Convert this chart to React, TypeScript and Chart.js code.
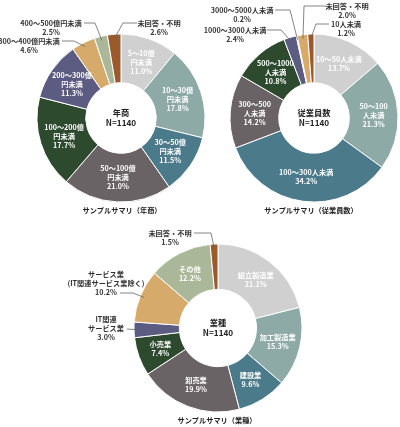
import React, { useEffect, useRef } from "react";
import { Chart, registerables } from "chart.js";

Chart.register(...registerables);

const W = 400;
const H = 427;

// ---- data ----
const revenueCategories = [
  "5〜10億\n円未満",
  "10〜30億\n円未満",
  "30〜50億\n円未満",
  "50〜100億\n円未満",
  "100〜200億\n円未満",
  "200〜300億\n円未満",
  "300〜400億円未満",
  "400〜500億円未満",
  "未回答・不明",
];
const revenueValues = [11.0, 17.8, 11.5, 21.0, 17.7, 11.3, 4.6, 2.5, 2.6];

const employeeCategories = [
  "10〜50人未満",
  "50〜100\n人未満",
  "100〜300人未満",
  "300〜500\n人未満",
  "500〜1000\n人未満",
  "1000〜3000人未満",
  "3000〜5000人未満",
  "未回答・不明",
  "10人未満",
];
const employeeValues = [13.7, 21.3, 34.2, 14.2, 10.8, 2.4, 0.2, 2.0, 1.2];

const industryCategories = [
  "組立製造業",
  "加工製造業",
  "建設業",
  "卸売業",
  "小売業",
  "IT関連\nサービス業",
  "サービス業\n(IT関連サービス業除く)",
  "その他",
  "未回答・不明",
];
const industryValues = [21.1, 15.3, 9.6, 19.9, 7.4, 3.0, 10.2, 12.2, 1.5];

const chartNames = ["年商", "従業員数", "業種"];
const totalN = "N=1140";
const titles = ["サンプルサマリ（年商）", "サンプルサマリ（従業員数）", "サンプルサマリ（業種）"];

// ---- styles ----
const C = {
  lightGray: "#d0d0d0",
  teal: "#8eaaa7",
  steel: "#4b7a8b",
  darkGray: "#6a6365",
  green: "#2d4a2f",
  purple: "#5c5b82",
  tan: "#d6aa6a",
  sage: "#abb799",
  brown: "#9a5a2b",
};
const revenueColors = [C.lightGray, C.teal, C.steel, C.darkGray, C.green, C.purple, C.tan, C.sage, C.brown];
const employeeColors = [C.lightGray, C.teal, C.steel, C.darkGray, C.green, C.purple, C.sage, C.tan, C.brown];
const industryColors = [C.lightGray, C.teal, C.steel, C.darkGray, C.green, C.purple, C.tan, C.sage, C.brown];

const FONT = '"Noto Sans CJK JP", "Noto Sans", sans-serif';
const FS = 7.2;
const CFS = 8.2;
const LH = 9;

type Outside = { x: number; y: number; path: number[][] };
type Layout = {
  cx: number;
  cy: number;
  r: number;
  cutout: string;
  title: { x: number; y: number };
  outside: Record<number, Outside>;
};

const layouts: Layout[] = [
  {
    cx: 121,
    cy: 118,
    r: 84,
    cutout: "42%",
    title: { x: 122, y: 210 },
    outside: {
      6: { x: 29, y: 41, path: [[62, 41], [74, 41]] },
      7: { x: 51, y: 23, path: [[84, 23], [95, 23]] },
      8: { x: 159, y: 23, path: [[137, 23], [123, 23]] },
    },
  },
  {
    cx: 314,
    cy: 118,
    r: 84,
    cutout: "42%",
    title: { x: 311, y: 210 },
    outside: {
      5: { x: 235, y: 30, path: [[267, 30], [281, 30]] },
      6: { x: 242, y: 10, path: [[275, 10], [290, 10]] },
      7: { x: 347, y: 6, path: [[326, 6], [304, 6]] },
      8: { x: 346, y: 24, path: [[329, 24], [316, 24]] },
    },
  },
  {
    cx: 218,
    cy: 328,
    r: 84,
    cutout: "46%",
    title: { x: 217, y: 420 },
    outside: {
      5: { x: 106, y: 319, path: [[127, 329]] },
      6: { x: 106, y: 274, path: [[120, 293], [133, 293]] },
      8: { x: 170, y: 233, path: [[194, 233], [211, 233]] },
    },
  },
];

const sliceLabelPlugin = {
  id: "sliceLabels",
  afterDraw(chart: any, _args: any, opts: any) {
    const lay: Layout = opts.layout;
    const ctx: CanvasRenderingContext2D = chart.ctx;
    const meta = chart.getDatasetMeta(0);
    const ds = chart.data.datasets[0];
    const labels: string[] = chart.data.labels;
    ctx.save();
    ctx.font = `bold ${FS}px ${FONT}`;
    ctx.textAlign = "center";
    ctx.textBaseline = "middle";
    meta.data.forEach((arc: any, i: number) => {
      const p = arc.getProps(["x", "y", "startAngle", "endAngle", "innerRadius", "outerRadius"], true);
      const mid = (p.startAngle + p.endAngle) / 2;
      const lines = labels[i].split("\n").concat([Number(ds.data[i]).toFixed(1) + "%"]);
      const out = lay.outside[i];
      if (!out) {
        const rr = (p.innerRadius + p.outerRadius) / 2;
        const x = p.x + Math.cos(mid) * rr;
        const y = p.y + Math.sin(mid) * rr;
        ctx.fillStyle = "#ffffff";
        const y0 = y - ((lines.length - 1) * LH) / 2;
        lines.forEach((t, k) => ctx.fillText(t, x, y0 + k * LH));
      } else {
        ctx.fillStyle = "#333333";
        lines.forEach((t, k) => ctx.fillText(t, out.x, out.y + k * LH));
        const rr = p.outerRadius - 4;
        const ax = p.x + Math.cos(mid) * rr;
        const ay = p.y + Math.sin(mid) * rr;
        ctx.strokeStyle = "#666666";
        ctx.lineWidth = 0.8;
        ctx.beginPath();
        out.path.forEach((pt, k) => (k === 0 ? ctx.moveTo(pt[0], pt[1]) : ctx.lineTo(pt[0], pt[1])));
        ctx.lineTo(ax, ay);
        ctx.stroke();
      }
    });
    // title
    ctx.fillStyle = "#222222";
    ctx.fillText(opts.title, lay.title.x, lay.title.y);
    // center text
    ctx.font = `bold ${CFS}px ${FONT}`;
    ctx.fillText(opts.name, lay.cx, lay.cy - 5);
    ctx.fillText(totalN, lay.cx, lay.cy + 5);
    ctx.restore();
  },
};

function padFor(l: Layout) {
  const half = l.r + 0.5;
  return {
    left: l.cx - half,
    top: l.cy - half,
    right: W - (l.cx + half),
    bottom: H - (l.cy + half),
  };
}

function DonutLayer({ idx, categories, values, colors }: { idx: number; categories: string[]; values: number[]; colors: string[] }) {
  const ref = useRef<HTMLCanvasElement | null>(null);
  useEffect(() => {
    if (!ref.current) return;
    const lay = layouts[idx];
    const chart = new Chart(ref.current, {
      type: "doughnut",
      data: {
        labels: categories,
        datasets: [
          {
            data: values,
            backgroundColor: colors,
            borderColor: "#ffffff",
            borderWidth: 1,
          },
        ],
      },
      options: {
        responsive: false,
        animation: false,
        events: [],
        cutout: lay.cutout,
        layout: { padding: padFor(lay) },
        plugins: {
          legend: { display: false },
          tooltip: { enabled: false },
          sliceLabels: { layout: lay, name: chartNames[idx], title: titles[idx] },
        } as any,
      },
      plugins: [sliceLabelPlugin as any],
    });
    return () => chart.destroy();
  }, []);
  return (
    <canvas
      ref={ref}
      width={W}
      height={H}
      style={{ position: "absolute", left: 0, top: 0, width: W, height: H }}
    />
  );
}

export default function App() {
  return (
    <div style={{ position: "absolute", left: 0, top: 0, width: W, height: H, background: "#ffffff", overflow: "hidden" }}>
      <DonutLayer idx={0} categories={revenueCategories} values={revenueValues} colors={revenueColors} />
      <DonutLayer idx={1} categories={employeeCategories} values={employeeValues} colors={employeeColors} />
      <DonutLayer idx={2} categories={industryCategories} values={industryValues} colors={industryColors} />
    </div>
  );
}
